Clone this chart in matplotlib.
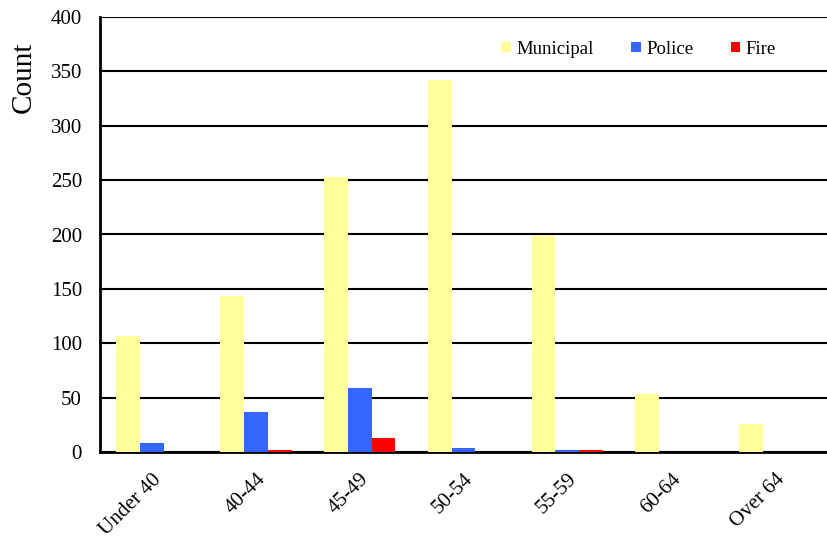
import numpy as np
import matplotlib.pyplot as plt
import matplotlib.transforms as mtransforms

categories = ["Under 40", "40-44", "45-49", "50-54", "55-59", "60-64", "Over 64"]
municipal = [107, 143, 253, 342, 199, 53, 26]
police = [8, 37, 59, 4, 2, 0, 0]
fire = [0, 2, 13, 0, 2, 0, 0]

plt.rcParams['font.family'] = ['Liberation Serif', 'DejaVu Serif']

fig = plt.figure(figsize=(8.27, 5.38), dpi=100)
ax = fig.add_axes([100 / 827, 1 - 452 / 538, 727 / 827, 435 / 538])

x = np.arange(len(categories))
w = 0.23
ax.bar(x - w, municipal, w, color='#FFFF99', label='Municipal', zorder=3)
ax.bar(x, police, w, color='#3366FF', label='Police', zorder=3)
ax.bar(x + w, fire, w, color='#FF0000', label='Fire', zorder=3)

ax.set_xlim(-0.5, len(categories) - 0.5)
ax.set_ylim(0, 400)
ax.set_yticks(np.arange(0, 401, 50))
ax.yaxis.grid(True, color='black', linewidth=1.5, zorder=0)
ax.set_axisbelow(True)

ax.set_xticks(x)
ax.set_xticklabels(categories, rotation=45, ha='right', rotation_mode='anchor', fontsize=15)
shift = mtransforms.ScaledTranslation(4 / 100, 0, fig.dpi_scale_trans)
for lab in ax.get_xticklabels():
    lab.set_transform(lab.get_transform() + shift)
ax.tick_params(axis='x', length=0, pad=13)
ax.tick_params(axis='y', length=0, labelsize=15, pad=13)
ax.set_ylabel("Count", fontsize=21)
ax.yaxis.set_label_coords(-0.087, 0.862)

for s in ['top', 'right']:
    ax.spines[s].set_visible(False)
for s in ['left', 'bottom']:
    ax.spines[s].set_linewidth(2)

ax.legend(loc='center right', bbox_to_anchor=(0.93, 0.926), ncol=3, frameon=False,
          fontsize=13.5, handlelength=0.5, handleheight=0.5, handletextpad=0.3,
          columnspacing=2.0, borderpad=0, borderaxespad=0)

fig.savefig("out.png", dpi=100)
